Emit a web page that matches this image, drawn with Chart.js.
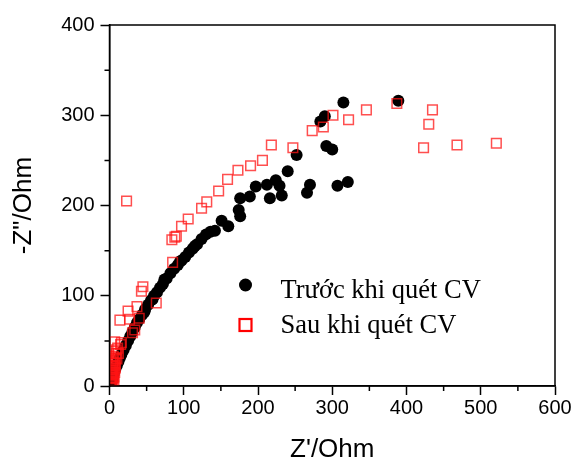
<!DOCTYPE html>
<html>
<head>
<meta charset="utf-8">
<script src="https://cdn.jsdelivr.net/npm/chart.js@4.4.1/dist/chart.umd.min.js"></script>
<style>
  body { margin: 0; background: #fff; }
  #wrap { width: 575px; height: 460px; }
</style>
</head>
<body>
<div id="wrap"><canvas id="myChart" width="575" height="460"></canvas></div>
<script>
// series names (legend)
const seriesNames = ['Trước khi quét CV', 'Sau khi quét CV'];

// before CV - black dots
const beforeX = [2, 3, 4, 5, 6, 8, 10, 12, 14, 16, 19, 22, 25, 28, 31, 34, 37, 40, 44, 48,
    52, 56, 60, 64, 68, 72, 77, 82, 87, 92, 97, 102, 107, 112, 118, 124, 130, 136, 142, 151,
    160, 174, 176, 176, 189, 197, 212, 216, 224, 229, 232, 240, 252, 266, 270, 284, 290, 292, 300, 307,
    315, 321, 389, 47, 58, 74, 95, 115];
const beforeY = [3, 6, 9, 12, 15, 19, 23, 27, 31, 35, 40, 45, 50, 55, 60, 65, 70, 74, 79, 85,
    90, 95, 100, 104, 109, 113, 119, 125, 130, 134, 139, 143, 148, 152, 157, 163, 168, 171, 172, 183,
    177, 195, 188, 208, 210, 221, 223, 208, 228, 222, 211, 238, 256, 214, 223, 293, 299, 266, 262, 222,
    314, 226, 316, 82, 96, 118, 138, 155];

// after CV - red open squares
const afterX = [2, 3, 3, 4, 4, 5, 5, 6, 7, 5, 8, 7, 9, 12, 9, 15, 7, 16, 31, 34,
    14, 27, 40, 25, 37, 63, 43, 45, 85, 84, 88, 90, 97, 106, 124, 131, 147, 159, 173, 190,
    206, 218, 247, 273, 288, 301, 322, 346, 387, 435, 430, 423, 468, 521, 23, 3, 6, 2, 8, 4,
    1, 2, 3, 5, 6, 1, 4, 7, 2, 5, 10, 11];
const afterY = [2, 5, 9, 12, 6, 14, 18, 22, 25, 28, 31, 23, 36, 36, 40, 46, 49, 48, 59, 62,
    73, 74, 75, 83, 88, 92, 105, 110, 137, 162, 165, 166, 177, 185, 197, 204, 216, 229, 239, 244,
    250, 267, 264, 283, 287, 300, 295, 306, 313, 306, 290, 264, 267, 269, 205, 16, 10, 12, 20, 26,
    4, 8, 13, 9, 3, 18, 22, 15, 28, 33, 30, 42];

// axes
const xMin = 0, xMax = 600, xStep = 100, xMinor = 50;
const yMin = 0, yMax = 400, yStep = 100, yMinor = 50;
const xTitle = "Z'/Ohm";
const yTitle = '-Z"/Ohm';

const tickFont = { family: 'Liberation Sans', size: 20 };
const titleFont = { family: 'Liberation Sans', size: 26 };

function toPoints(xs, ys) {
    return xs.map((x, i) => ({ x: x, y: ys[i] }));
}

// frame, minor ticks and the legend inside the plot
const extras = {
    id: 'extras',
    afterDraw(chart) {
        const ctx = chart.ctx;
        const a = chart.chartArea;
        const xs = chart.scales.x, ys = chart.scales.y;
        ctx.save();
        ctx.strokeStyle = '#000';
        ctx.lineWidth = 1.5;
        ctx.strokeRect(a.left, a.top, a.right - a.left, a.bottom - a.top);

        // minor ticks
        ctx.beginPath();
        for (let v = xMin + xMinor; v < xMax; v += xStep) {
            const px = xs.getPixelForValue(v);
            ctx.moveTo(px, a.bottom);
            ctx.lineTo(px, a.bottom + 5);
        }
        for (let v = yMin + yMinor; v < yMax; v += yStep) {
            const py = ys.getPixelForValue(v);
            ctx.moveTo(a.left, py);
            ctx.lineTo(a.left - 5, py);
        }
        ctx.stroke();

        // legend
        const lx = a.left + 136;
        ctx.fillStyle = '#000';
        ctx.beginPath();
        ctx.arc(lx, 285, 6.5, 0, Math.PI * 2);
        ctx.fill();
        ctx.strokeStyle = '#ff0000';
        ctx.lineWidth = 2.2;
        ctx.strokeRect(lx - 6, 319, 12, 12);

        ctx.font = '26.5px "Liberation Serif"';
        ctx.fillStyle = '#000';
        ctx.textBaseline = 'alphabetic';
        ctx.fillText(seriesNames[0], lx + 35, 298);
        ctx.fillText(seriesNames[1], lx + 35, 333);
        ctx.restore();
    }
};

const myChart = document.getElementById('myChart');

new Chart(myChart, {
    type: 'scatter',
    data: {
        datasets: [{
            label: seriesNames[0],
            data: toPoints(beforeX, beforeY),
            pointStyle: 'circle',
            pointRadius: 6,
            pointHoverRadius: 6,
            backgroundColor: '#000',
            borderColor: '#000',
            borderWidth: 0,
            order: 2
        }, {
            label: seriesNames[1],
            data: toPoints(afterX, afterY),
            pointStyle: 'rect',
            pointRadius: 6.8,
            pointHoverRadius: 6.8,
            backgroundColor: 'rgba(0,0,0,0)',
            borderColor: 'rgba(255,20,20,0.75)',
            borderWidth: 1.5,
            order: 1
        }]
    },
    options: {
        responsive: false,
        animation: false,
        events: [],
        layout: { padding: { top: 25, right: 20, left: 0, bottom: 0 } },
        plugins: {
            legend: { display: false },
            tooltip: { enabled: false }
        },
        scales: {
            x: {
                type: 'linear',
                min: xMin,
                max: xMax,
                afterFit(scale) { scale.height = 74; },
                ticks: { stepSize: xStep, color: '#000', font: tickFont, padding: 1 },
                grid: { drawOnChartArea: false, tickLength: 9, tickColor: '#000', tickWidth: 1.5 },
                border: { display: true, color: '#000', width: 1.5 },
                title: { display: true, text: xTitle, color: '#000', font: titleFont, padding: { top: 8, bottom: -5 } }
            },
            y: {
                type: 'linear',
                min: yMin,
                max: yMax,
                afterFit(scale) { scale.width = 109.5; },
                ticks: { stepSize: yStep, color: '#000', font: tickFont, padding: 6 },
                grid: { drawOnChartArea: false, tickLength: 9, tickColor: '#000', tickWidth: 1.5 },
                border: { display: true, color: '#000', width: 1.5 },
                title: { display: true, text: yTitle, color: '#000', font: titleFont, padding: { top: 8, bottom: 0 } }
            }
        }
    },
    plugins: [extras]
});
</script>
</body>
</html>
